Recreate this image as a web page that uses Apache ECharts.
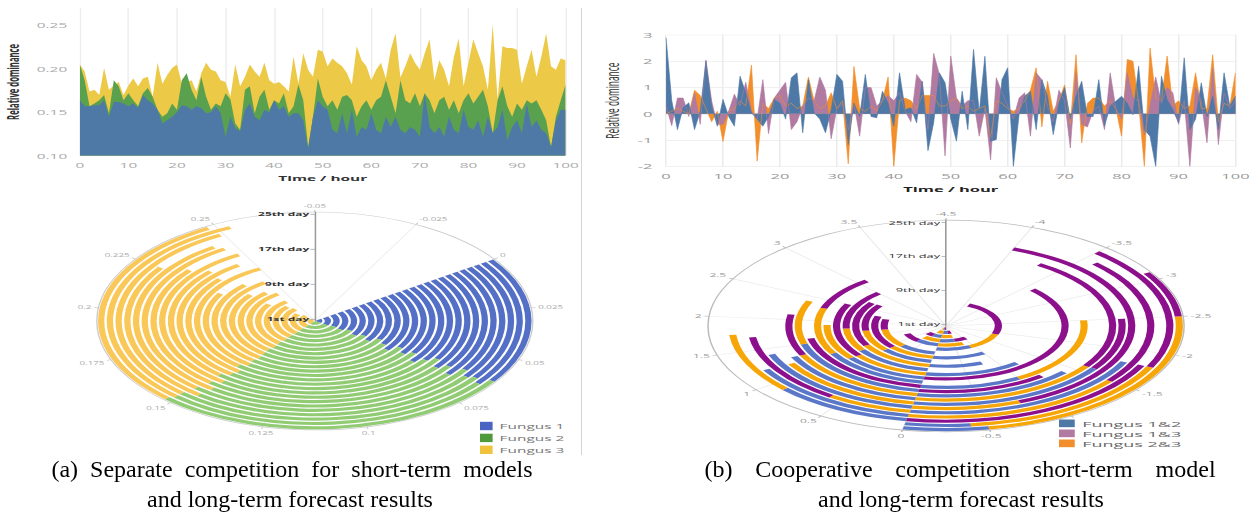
<!DOCTYPE html>
<html><head><meta charset="utf-8">
<script src="https://cdn.jsdelivr.net/npm/echarts@6/dist/echarts.min.js"></script>
<style>
html,body{margin:0;padding:0;background:#fff;width:1257px;height:524px;overflow:hidden;position:relative}
.p{position:absolute;transform-origin:0 0}
</style></head><body>
<div id="ta" class="p" style="left:0;top:0;width:414px;height:279px;transform:scale(1.4,0.7)"></div>
<div id="tb" class="p" style="left:590px;top:0;width:445px;height:307px;transform:scale(1.5,0.6667)"></div>
<div id="pa" class="p" style="left:60px;top:195px;width:371px;height:379px;transform:scale(1.4,0.7)"></div>
<div id="pb" class="p" style="left:600px;top:200px;width:438px;height:390px;transform:scale(1.5,0.6667)"></div>
<div style="position:absolute;left:581px;top:8px;width:1px;height:447px;background:#d4d4d4"></div>
<div id="cap" class="p" style="left:0;top:440px;width:1257px;height:84px"></div>
<script>
// ---------- data ----------
const hours = Array.from({length: 101}, (_, i) => i);
// (a) short-term separate competition (upper boundaries of each colour)
const fungus3A = [0.205,0.197,0.174,0.176,0.170,0.201,0.176,0.181,0.185,0.170,
0.181,0.189,0.180,0.189,0.191,0.168,0.207,0.183,0.193,0.201,
0.205,0.183,0.185,0.187,0.174,0.195,0.207,0.199,0.197,0.187,
0.185,0.168,0.205,0.180,0.191,0.205,0.197,0.191,0.207,0.187,
0.183,0.185,0.180,0.174,0.214,0.183,0.218,0.199,0.191,0.222,
0.220,0.203,0.212,0.207,0.203,0.195,0.182,0.226,0.210,0.203,
0.187,0.199,0.207,0.189,0.222,0.241,0.190,0.203,0.218,0.207,
0.199,0.218,0.234,0.187,0.210,0.199,0.180,0.214,0.235,0.180,
0.207,0.234,0.218,0.203,0.176,0.251,0.165,0.226,0.224,0.224,
0.222,0.183,0.203,0.222,0.191,0.214,0.241,0.203,0.199,0.212,
0.210];
const fungus2A = [0.205,0.187,0.157,0.160,0.164,0.170,0.149,0.187,0.180,0.164,
0.172,0.164,0.157,0.172,0.178,0.168,0.153,0.145,0.149,0.160,
0.153,0.187,0.195,0.176,0.164,0.191,0.168,0.153,0.160,0.157,
0.172,0.165,0.137,0.130,0.176,0.180,0.149,0.168,0.176,0.153,
0.164,0.160,0.172,0.149,0.157,0.182,0.164,0.110,0.145,0.189,
0.168,0.157,0.164,0.153,0.168,0.170,0.164,0.145,0.157,0.164,
0.153,0.164,0.168,0.187,0.168,0.149,0.187,0.164,0.160,0.172,
0.157,0.172,0.164,0.149,0.164,0.168,0.153,0.164,0.149,0.164,
0.172,0.160,0.168,0.176,0.157,0.126,0.164,0.180,0.157,0.145,
0.160,0.153,0.164,0.160,0.164,0.153,0.141,0.110,0.145,0.164,
0.182];
const fungus1A = [0.164,0.157,0.157,0.158,0.158,0.164,0.145,0.162,0.162,0.160,
0.157,0.160,0.155,0.170,0.164,0.160,0.153,0.137,0.141,0.145,
0.150,0.158,0.157,0.153,0.157,0.155,0.149,0.150,0.157,0.149,
0.122,0.145,0.132,0.128,0.153,0.160,0.145,0.141,0.153,0.150,
0.164,0.153,0.157,0.145,0.149,0.149,0.141,0.108,0.145,0.164,
0.157,0.153,0.130,0.126,0.149,0.126,0.153,0.122,0.133,0.130,
0.149,0.130,0.126,0.145,0.133,0.145,0.130,0.126,0.133,0.130,
0.122,0.172,0.133,0.126,0.133,0.122,0.145,0.130,0.126,0.153,
0.133,0.130,0.141,0.122,0.145,0.126,0.133,0.153,0.118,0.133,
0.141,0.126,0.160,0.133,0.141,0.130,0.126,0.110,0.140,0.153,
0.153];
// (b) short-term cooperative competition
const f12B = [2.89,0.5,-0.6,0.23,0.42,-0.6,0.1,2.0,0.3,-0.47,
0.55,-0.1,-0.47,1.43,0.8,0.04,-0.2,-0.47,-0.1,0.55,
0.4,-0.2,1.37,1.56,-0.72,1.3,0.04,-0.2,-0.72,0.16,
1.5,1.24,-1.17,0.4,-0.1,1.5,-0.1,-0.15,0.86,0.4,
-0.47,1.56,0.16,0.23,-0.34,1.24,-1.4,-0.34,1.56,1.18,
-0.2,-1.04,0.86,-0.6,2.45,0.04,2.19,-1.04,-0.98,1.3,
1.75,-2.0,-0.03,0.67,0.86,-0.6,1.3,0.67,-0.79,0.4,
1.0,-0.2,0.67,1.24,-0.1,-0.1,1.3,-0.47,0.3,0.48,
0.67,0.4,-0.03,1.81,-0.6,-0.85,-2.0,1.43,0.54,0.16,
-0.34,2.13,-0.6,-0.2,1.18,-0.1,0.67,-0.6,1.56,0.3,
0.67];
const f13B = [0.3,-0.45,0.6,0.6,-0.1,0.8,-0.4,2.05,0.5,-0.4,
-0.4,0.1,0.75,0.3,1.2,0.1,-0.2,1.3,-0.75,0.6,
0.9,1.2,-0.6,-0.3,0.3,0.6,0.5,1.4,0.9,-0.95,
0.2,0.4,-0.6,0.4,-0.85,1.0,1.0,0.3,0.5,0.7,
0.5,0.8,0.1,-0.3,1.5,1.2,-0.6,2.3,1.5,-1.6,
2.2,0.6,0.3,0.5,0.5,-0.85,0.2,-1.75,1.37,0.8,
0.3,-0.2,0.6,0.8,-0.85,1.56,1.3,0.3,-0.3,0.9,
0.5,-1.3,1.56,-0.4,-0.5,0.1,0.3,-0.6,1.56,0.2,
-0.2,1.56,0.6,0.5,-0.8,0.3,1.4,0.4,1.0,0.8,
-0.4,0.5,-2.0,1.0,0.5,-1.1,1.75,-1.17,0.8,0.2,
0.5];
const f23B = [0,0.1,0.2,0.1,0,0.9,0.7,0.2,-0.3,0.1,
-1.05,0.1,0.2,0.5,0.3,1.85,-1.8,0.4,0.2,0.6,
0.7,0.3,0.4,0.2,0.3,1.4,0.5,0.2,0.3,0.8,
0.2,0.5,-1.9,1.8,0.2,0.1,0.3,0.1,0.5,1.4,
-2.0,0.5,0.6,0.5,0.2,0.7,0.7,0.7,0.3,0.3,
0.5,0.6,0.2,0.3,0.1,0.2,0.3,-0.9,0.5,0.4,
0.2,0.1,0.2,0.5,0.9,1.75,-0.5,1.24,0.1,0.5,
1.1,-0.4,2.25,-1.1,0.4,0.6,0.6,0.3,0.5,0.2,
-0.85,2.07,2.0,0.4,-2.0,2.5,0.6,0.5,2.2,0.3,
0.5,0.2,0.3,1.56,0.2,0.2,2.25,-0.3,0.4,0.3,
1.56];
// long-term forecasts (polar), one value per day
const days = ['1st day','2nd day','3rd day','4th day','5th day','6th day','7th day','8th day','9th day','10th day',
'11th day','12th day','13th day','14th day','15th day','16th day','17th day','18th day','19th day','20th day',
'21st day','22nd day','23rd day','24th day','25th day'];
const longF1 = [0.060,0.062,0.058,0.061,0.057,0.063,0.059,0.064,0.058,0.062,0.066,0.060,0.064,0.061,0.067,0.063,0.060,0.065,0.062,0.066,0.061,0.064,0.063,0.065,0.062];
const longF2 = [0.088,0.085,0.090,0.086,0.091,0.084,0.089,0.083,0.090,0.085,0.080,0.087,0.082,0.088,0.079,0.084,0.090,0.081,0.087,0.080,0.089,0.083,0.088,0.086,0.090];
const longF3 = [0.085,0.090,0.080,0.092,0.087,0.095,0.078,0.097,0.090,0.082,0.099,0.088,0.075,0.101,0.085,0.097,0.083,0.102,0.080,0.100,0.094,0.078,0.098,0.102,0.096];
const long12 = [0.3,-0.4,0.5,-0.6,0.7,-0.9,0.8,-1.0,0.9,-0.8,1.1,-1.2,1.0,1.2,-1.0,1.5,-1.4,1.3,-1.6,1.4,-1.8,1.2,0.9,-0.4,-0.5];
const long23 = [0.2,0.5,-0.6,0.7,-0.8,-1.0,0.9,0.9,0.8,1.2,0.7,1.0,0.9,1.1,-1.5,0.9,1.3,-1.6,1.2,-0.8,0.6,-1.5,0.85,-1.4,-2.0];
const long13 = [-0.3,-0.3,0.4,-0.5,0.6,-2.0,0.5,1.4,1.0,1.5,1.2,1.5,-3.4,0.8,1.6,-1.2,0.8,-2.1,-0.9,-3.2,1.1,-1.9,-1.8,-1.7,-0.6];
const xTicks = {min: 0, max: 100, interval: 10};
const captionA = ['(a) Separate competition for short-term models', 'and long-term forecast results'];
const captionB = ['(b) Cooperative competition short-term model', 'and long-term forecast results'];

// ---------- helpers ----------
const FONT = 'Open Sans';
const pairs = arr => arr.map((v, i) => [hours[i], v]);
function area(name, data, color, lw, origin) {
  return {name, type: 'line', data: pairs(data), symbol: 'none', smooth: false,
    lineStyle: {width: lw || 0, color}, itemStyle: {color},
    areaStyle: {color, opacity: 1, origin: origin || 'auto'}};
}
const opts = {renderer: 'svg'};

// ---------- (a) top ----------
const ta = echarts.init(document.getElementById('ta'), null, opts);
ta.setOption({
  animation: false, textStyle: {fontFamily: FONT},
  grid: {left: 57, right: 10, top: 11.5, bottom: 56.5, outerBoundsMode: 'none'},
  xAxis: {type: 'value', min: xTicks.min, max: xTicks.max, interval: xTicks.interval,
    name: 'Time / hour', nameLocation: 'middle', nameGap: 27,
    nameTextStyle: {color: '#333', fontSize: 11, fontWeight: 'bold', fontFamily: FONT},
    axisLine: {show: false}, axisTick: {show: false},
    axisLabel: {color: '#aaa', fontSize: 11, margin: 8, fontFamily: FONT},
    splitLine: {show: true, lineStyle: {color: '#ededed'}}},
  yAxis: {type: 'value', min: 0.1, max: 0.27, interval: 0.05,
    name: 'Relative dominance', nameLocation: 'middle', nameGap: 40,
    nameTextStyle: {color: '#333', fontSize: 11, fontWeight: 'bold', fontFamily: FONT},
    axisLine: {show: false}, axisTick: {show: false},
    axisLabel: {color: '#aaa', fontSize: 11, margin: 9, showMaxLabel: false, fontFamily: FONT,
      formatter: v => v.toFixed(2)},
    splitLine: {show: false}},
  series: [
    area('Fungus 3', fungus3A, '#edc948', 0, 'start'),
    area('Fungus 2', fungus2A, '#59a14f', 0, 'start'),
    area('Fungus 1', fungus1A, '#4e79a7', 0, 'start')
  ]
});

// ---------- (b) top ----------
const tb = echarts.init(document.getElementById('tb'), null, opts);
tb.setOption({
  animation: false, textStyle: {fontFamily: FONT},
  grid: {left: 50.7, right: 14.7, top: 52.5, bottom: 57.4, outerBoundsMode: 'none'},
  xAxis: {type: 'value', min: xTicks.min, max: xTicks.max, interval: xTicks.interval,
    name: 'Time / hour', nameLocation: 'middle', nameGap: 28,
    nameTextStyle: {color: '#222', fontSize: 11, fontWeight: 'bold', fontFamily: FONT},
    axisLine: {show: false}, axisTick: {show: false},
    axisLabel: {color: '#999', fontSize: 11, margin: 9, fontFamily: FONT},
    splitLine: {show: true, lineStyle: {color: '#ebebeb'}}},
  yAxis: {type: 'value', min: -2, max: 3, interval: 1,
    name: 'Relative dominance', nameLocation: 'middle', nameGap: 24,
    nameTextStyle: {color: '#333', fontSize: 12.5, fontFamily: FONT},
    axisLine: {show: false}, axisTick: {show: false},
    axisLabel: {color: '#999', fontSize: 11, margin: 9, fontFamily: FONT},
    splitLine: {show: true, lineStyle: {color: '#ebebeb'}}},
  series: [
    area('Fungus 2&3', f23B, '#f28e2b', 0.6),
    area('Fungus 1&3', f13B, '#b07aa1', 0.6),
    area('Fungus 1&2', f12B, '#4e79a7', 0.6)
  ]
});

// ---------- polar helpers ----------
function radiusAx(fs, col, weight) {
  return {type: 'category', data: days, z: 10,
    axisLine: {show: true, lineStyle: {color: '#999', width: 1}},
    axisTick: {show: true, interval: 7, alignWithLabel: true, length: 3, lineStyle: {color: '#999'}},
    axisLabel: {interval: 7, fontSize: fs, color: col, fontWeight: weight, margin: 4, fontFamily: FONT},
    splitLine: {show: false}};
}

// ---------- (a) polar ----------
const pa = echarts.init(document.getElementById('pa'), null, opts);
pa.setOption({
  animation: false, textStyle: {fontFamily: FONT},
  polar: {center: [182, 180], radius: 155.7},
  angleAxis: {type: 'value', min: -0.05, max: 0.275, interval: 0.025, startAngle: 90, clockwise: true,
    axisLine: {lineStyle: {color: '#ccc'}}, axisTick: {show: true, length: 3, lineStyle: {color: '#ccc'}},
    axisLabel: {color: '#aaa', fontSize: 7, margin: 5, fontFamily: FONT},
    splitLine: {show: true, lineStyle: {color: '#f0f0f0'}}},
  radiusAxis: radiusAx(8.5, '#333', 'bold'),
  legend: {orient: 'vertical', left: 295, top: 319, itemWidth: 9, itemHeight: 12, itemGap: 5, icon: 'rect',
    textStyle: {color: '#777', fontSize: 11, fontFamily: FONT},
    data: [{name: 'Fungus 1', itemStyle: {color: '#4a64c4'}},
           {name: 'Fungus 2', itemStyle: {color: '#4f9a3a'}},
           {name: 'Fungus 3', itemStyle: {color: '#f0c33c'}}]},
  series: [
    {name: 'Fungus 1', type: 'bar', coordinateSystem: 'polar', stack: 'a', data: longF1, barCategoryGap: '28%', itemStyle: {color: '#5470c6'}},
    {name: 'Fungus 2', type: 'bar', coordinateSystem: 'polar', stack: 'a', data: longF2, barCategoryGap: '28%', itemStyle: {color: '#91cc75'}},
    {name: 'Fungus 3', type: 'bar', coordinateSystem: 'polar', stack: 'a', data: longF3, barCategoryGap: '28%', itemStyle: {color: '#fac858'}}
  ]
});

// ---------- (b) polar ----------
const pb = echarts.init(document.getElementById('pb'), null, opts);
pb.setOption({
  animation: false, textStyle: {fontFamily: FONT},
  polar: {center: [230.7, 189], radius: 158.7},
  angleAxis: {type: 'value', min: -4.5, max: 4, interval: 0.5, startAngle: 90, clockwise: true,
    axisLine: {lineStyle: {color: '#bbb'}}, axisTick: {show: true, length: 3, lineStyle: {color: '#bbb'}},
    axisLabel: {color: '#999', fontSize: 8, margin: 5, fontFamily: FONT,
      // the "-1" label sits under the legend in the reference
      formatter: v => (Math.abs(v + 1) < 1e-9 ? '' : String(Math.round(v * 100) / 100))},
    splitLine: {show: true, lineStyle: {color: '#ececec'}}},
  radiusAxis: radiusAx(8.5, '#333', 'normal'),
  legend: {orient: 'vertical', left: 301, top: 324, itemWidth: 10.5, itemHeight: 11.5, itemGap: 3, icon: 'rect',
    textStyle: {color: '#666', fontSize: 12, fontFamily: FONT},
    data: [{name: 'Fungus 1&2', itemStyle: {color: '#4e79a7'}},
           {name: 'Fungus 1&3', itemStyle: {color: '#b07aa1'}},
           {name: 'Fungus 2&3', itemStyle: {color: '#f28e2b'}}]},
  series: [
    {name: 'Fungus 1&2', type: 'bar', coordinateSystem: 'polar', stack: 'b', data: long12, barCategoryGap: '25%', itemStyle: {color: '#5b78c8'}},
    {name: 'Fungus 2&3', type: 'bar', coordinateSystem: 'polar', stack: 'b', data: long23, barCategoryGap: '25%', itemStyle: {color: '#f7a608'}},
    {name: 'Fungus 1&3', type: 'bar', coordinateSystem: 'polar', stack: 'b', data: long13, barCategoryGap: '25%', itemStyle: {color: '#8c0f8c'}}
  ]
});

// ---------- captions ----------
const cap = echarts.init(document.getElementById('cap'), null, {renderer: 'canvas'});
const capStyle = {fill: '#000', font: '24px "Liberation Serif"', fontSize: 24, fontFamily: 'Liberation Serif',
  align: 'center', verticalAlign: 'middle', textAlign: 'center', textVerticalAlign: 'middle'};
const spread = (s, gap) => s.split(' ').join(gap);
cap.setOption({
  animation: false,
  graphic: [
    {type: 'text', x: 292, y: 31, style: Object.assign({text: spread(captionA[0], '\u00a0\u00a0')}, capStyle)},
    {type: 'text', x: 290, y: 61, style: Object.assign({text: captionA[1]}, capStyle)},
    {type: 'text', x: 960, y: 31, style: Object.assign({text: spread(captionB[0], '\u00a0\u00a0\u00a0\u2009')}, capStyle)},
    {type: 'text', x: 961, y: 61, style: Object.assign({text: captionB[1]}, capStyle)}
  ]
});
</script>
</body></html>
